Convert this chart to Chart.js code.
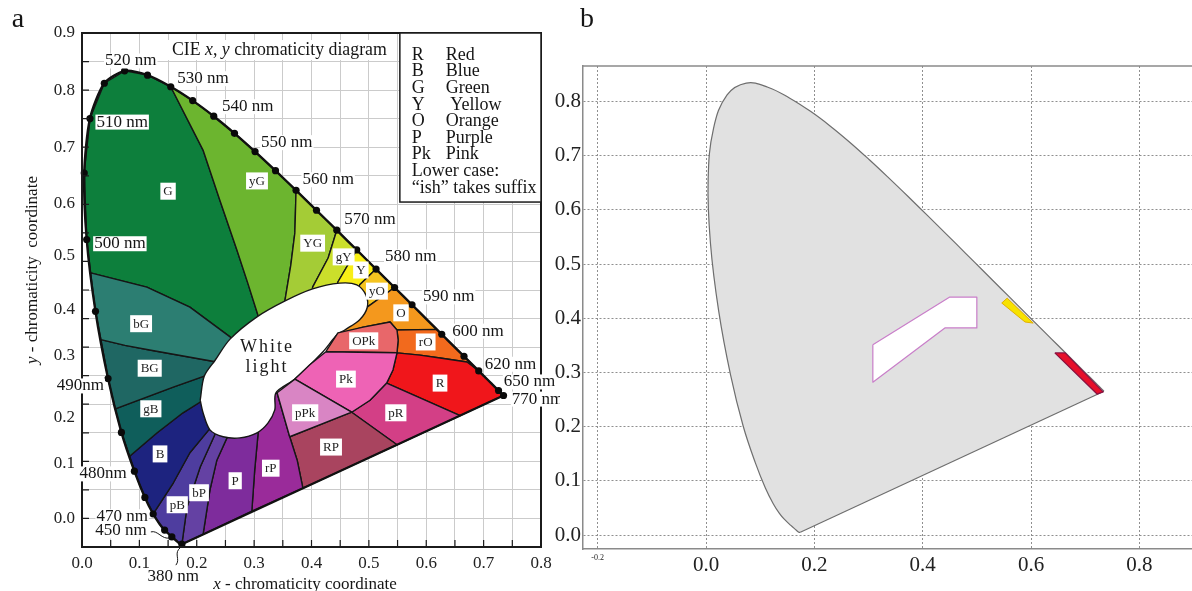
<!DOCTYPE html>
<html><head><meta charset="utf-8">
<script src="https://cdn.jsdelivr.net/npm/chart.js@4/dist/chart.umd.min.js"></script>
<style>
html,body{margin:0;padding:0;background:#fff;width:1192px;height:591px;overflow:hidden;position:relative}
#ca{position:absolute;left:0;top:0}
#cb{position:absolute;left:530px;top:0}
</style></head><body>
<canvas id="cb" width="680" height="591"></canvas>
<canvas id="ca" width="560" height="591"></canvas>
<script>
// ---------- spectral locus (CIE 1931) ----------
const wavelengths = [380,420,440,450,460,465,470,475,480,485,490,495,500,505,510,515,520,525,530,535,540,545,550,555,560,565,570,575,580,585,590,595,600,605,610,620,630,640,650,700];
const locusX = [0.1741,0.1714,0.1644,0.1566,0.1440,0.1355,0.1241,0.1096,0.0913,0.0687,0.0454,0.0235,0.0082,0.0039,0.0139,0.0389,0.0743,0.1142,0.1547,0.1929,0.2296,0.2658,0.3016,0.3373,0.3731,0.4087,0.4441,0.4788,0.5125,0.5448,0.5752,0.6029,0.6270,0.6482,0.6658,0.6915,0.7079,0.7190,0.7260,0.7347];
const locusY = [0.0050,0.0051,0.0109,0.0177,0.0297,0.0399,0.0578,0.0868,0.1327,0.2007,0.2950,0.4127,0.5384,0.6548,0.7502,0.8120,0.8338,0.8262,0.8059,0.7816,0.7543,0.7243,0.6923,0.6589,0.6245,0.5896,0.5547,0.5202,0.4866,0.4544,0.4242,0.3965,0.3725,0.3514,0.3340,0.3083,0.2920,0.2809,0.2740,0.2653];
const dotNm = [380,450,460,470,475,480,485,490,495,500,505,510,515,520,525,530,535,540,545,550,555,560,565,570,575,580,585,590,600,610,620,650,700];

// ---------- panel a regions ('a-b' = locus segment) ----------
const regionG   = ['500-530',[0.211,0.695],[0.240,0.608],[0.270,0.520],[0.289,0.462],[0.307,0.405],[0.314,0.371],[0.275,0.350],[0.258,0.368],[0.188,0.420],[0.113,0.455],[0.015,0.480]];
const regionyG  = ['530-560',[0.371,0.550],[0.364,0.494],[0.354,0.433],[0.350,0.400],[0.314,0.371],[0.307,0.405],[0.289,0.462],[0.270,0.520],[0.240,0.608],[0.211,0.695]];
const regionYG  = ['560-570',[0.429,0.506],[0.402,0.455],[0.400,0.420],[0.350,0.400],[0.354,0.433],[0.364,0.494],[0.371,0.550]];
const regiongY  = ['570-575',[0.446,0.464],[0.440,0.430],[0.400,0.420],[0.402,0.455],[0.429,0.506]];
const regionY   = ['575-580',[0.484,0.459],[0.470,0.420],[0.440,0.430],[0.446,0.464]];
const regionyO  = ['580-585',[0.497,0.420],[0.470,0.420],[0.484,0.459]];
const regionO   = ['585-595',[0.618,0.381],[0.549,0.380],[0.537,0.394],[0.490,0.385],[0.444,0.371],[0.470,0.400],[0.470,0.420],[0.497,0.420]];
const regionrO  = [[0.618,0.381],'600-620',[0.671,0.324],[0.624,0.331],[0.589,0.336],[0.549,0.340],[0.551,0.362],[0.549,0.380]];
const regionR   = ['620-700',[0.659,0.230],[0.531,0.287],[0.542,0.310],[0.549,0.340],[0.589,0.336],[0.624,0.331],[0.671,0.324]];
const regionpR  = [[0.531,0.287],[0.659,0.230],[0.549,0.179],[0.470,0.236],[0.502,0.257]];
const regionRP  = [[0.362,0.193],[0.470,0.236],[0.549,0.179],[0.385,0.103],[0.375,0.152]];
const regionrP  = [[0.385,0.103],[0.375,0.152],[0.362,0.193],[0.340,0.270],[0.300,0.250],[0.307,0.200],[0.301,0.135],[0.296,0.063]];
const regionP   = [[0.307,0.200],[0.301,0.135],[0.296,0.063],[0.211,0.022],[0.223,0.100],[0.235,0.152],[0.253,0.192],[0.270,0.220]];
const regionbP  = [[0.253,0.192],[0.235,0.152],[0.223,0.100],[0.211,0.022],[0.1741,0.005],[0.183,0.070],[0.206,0.140],[0.232,0.198],[0.250,0.220]];
const regionpB  = ['380-470',[0.159,0.112],[0.188,0.165],[0.221,0.205],[0.250,0.220],[0.232,0.198],[0.206,0.140],[0.183,0.070]];
const regionB   = ['470-480',[0.083,0.159],[0.131,0.200],[0.176,0.235],[0.211,0.257],[0.250,0.260],[0.250,0.220],[0.221,0.205],[0.188,0.165],[0.159,0.112]];
const regiongB  = [[0.083,0.159],'485',[0.058,0.242],[0.159,0.280],[0.218,0.301],[0.250,0.280],[0.250,0.260],[0.211,0.257],[0.176,0.235],[0.131,0.200]];
const regionBG  = [[0.058,0.242],'490',[0.033,0.363],[0.075,0.353],[0.118,0.345],[0.235,0.324],[0.260,0.300],[0.250,0.280],[0.218,0.301],[0.159,0.280]];
const regionbG  = [[0.033,0.363],'495',[0.015,0.480],[0.113,0.455],[0.188,0.420],[0.258,0.368],[0.275,0.350],[0.260,0.300],[0.235,0.324],[0.118,0.345],[0.075,0.353]];
const regionWhite = [[0.206,0.257],[0.213,0.299],[0.232,0.327],[0.258,0.364],[0.305,0.403],[0.354,0.431],[0.402,0.452],[0.449,0.462],[0.479,0.459],[0.495,0.441],[0.497,0.419],[0.484,0.398],[0.458,0.380],[0.444,0.371],[0.420,0.342],[0.371,0.294],[0.338,0.270],[0.336,0.240],[0.324,0.217],[0.305,0.200],[0.275,0.191],[0.246,0.193],[0.223,0.205],[0.211,0.235]];
const regionOPk = [[0.425,0.342],[0.446,0.375],[0.490,0.385],[0.537,0.394],[0.549,0.380],[0.551,0.362],[0.549,0.340],[0.484,0.341]];
const regionPk  = [[0.425,0.342],[0.484,0.341],[0.549,0.340],[0.542,0.310],[0.531,0.287],[0.502,0.257],[0.470,0.236],[0.371,0.294],[0.397,0.319]];
const regionpPk = [[0.371,0.294],[0.470,0.236],[0.362,0.193],[0.340,0.270]];

const regionLabelText = ['G','yG','YG','gY','Y','yO','O','OPk','rO','R','Pk','pR','pPk','RP','rP','P','bP','pB','B','gB','BG','bG'];
const regionLabelX = [0.150,0.305,0.402,0.456,0.486,0.514,0.556,0.491,0.599,0.624,0.460,0.547,0.389,0.434,0.329,0.267,0.204,0.166,0.136,0.120,0.118,0.103];
const regionLabelY = [0.623,0.641,0.532,0.508,0.485,0.448,0.410,0.361,0.359,0.287,0.294,0.235,0.235,0.175,0.138,0.116,0.095,0.074,0.163,0.242,0.313,0.391];

const wlText = ['520 nm','530 nm','540 nm','550 nm','560 nm','570 nm','580 nm','590 nm','600 nm','620 nm','650 nm','770 nm','510 nm','500 nm','490nm','480nm','470 nm','450 nm','380 nm'];
const wlX = [0.085,0.211,0.289,0.357,0.429,0.502,0.573,0.639,0.690,0.747,0.780,0.794,0.070,0.066,-0.003,0.037,0.070,0.068,0.159];
const wlY = [0.851,0.820,0.771,0.708,0.643,0.573,0.508,0.438,0.378,0.320,0.289,0.259,0.744,0.531,0.282,0.128,0.053,0.028,-0.051];

const legendKeys = ['R','B','G','Y','O','P','Pk'];
const legendNames = ['Red','Blue','Green',' Yellow','Orange','Purple','Pink'];
const legendNotes = ['Lower case:','\u201Cish\u201D takes suffix'];

const xGridA = [0,0.05,0.1,0.15,0.2,0.25,0.3,0.35,0.4,0.45,0.5,0.55,0.6,0.65,0.7,0.75,0.8];
const xTickLabelsA = ['0.0','0.1','0.2','0.3','0.4','0.5','0.6','0.7','0.8'];
const yGridA = [0,0.05,0.1,0.15,0.2,0.25,0.3,0.35,0.4,0.45,0.5,0.55,0.6,0.65,0.7,0.75,0.8,0.85,0.9];
const yTickPosA = [0.049,0.147,0.226,0.336,0.415,0.510,0.602,0.700,0.800,0.900];
const yTickLabelsA = ['0.0','0.1','0.2','0.3','0.4','0.5','0.6','0.7','0.8','0.9'];

// ---------- panel b ----------
const markWhiteB  = [[0.308,0.351],[0.450,0.439],[0.500,0.439],[0.500,0.382],[0.441,0.382],[0.308,0.282]];
const markYellowB = [[0.546,0.428],[0.556,0.437],[0.604,0.391],[0.589,0.393]];
const markRedB    = [[0.644,0.336],[0.663,0.336],[0.733,0.264],[0.722,0.260]];
const xTicksB = [-0.2,0,0.2,0.4,0.6,0.8];
const xTickLabelsB = ['-0.2','0.0','0.2','0.4','0.6','0.8'];
const yTicksB = [0,0.1,0.2,0.3,0.4,0.5,0.6,0.7,0.8];
const yTickLabelsB = ['0.0','0.1','0.2','0.3','0.4','0.5','0.6','0.7','0.8'];

// ---------- styles ----------
const SERIF = '"Liberation Serif","Times New Roman",serif';
const regionColors = {G:'#0d7f3c',yG:'#6cb52f',YG:'#a4cc36',gY:'#cbdf2b',Y:'#f8ee16',yO:'#f5c420',O:'#f4981d',rO:'#f26a1d',R:'#f0161b',
  pR:'#d33f86',RP:'#a9445f',rP:'#9a2b9a',P:'#7e2c9c',bP:'#6441a3',pB:'#4e3d9f',B:'#1d237f',gB:'#0f5e5b',BG:'#1f6763',bG:'#2c7e72',
  White:'#ffffff',OPk:'#e8676a',Pk:'#ee63b5',pPk:'#d985c4'};

function locusIdx(nm){return wavelengths.indexOf(nm);}
function seg(a,b){
  const i=locusIdx(a), j=locusIdx(b), out=[];
  if(i<=j){for(let k=i;k<=j;k++) out.push({x:locusX[k],y:locusY[k]});}
  else {for(let k=i;k>=j;k--) out.push({x:locusX[k],y:locusY[k]});}
  return out;
}
function build(path){
  const pts=[];
  path.forEach(p=>{
    if(typeof p==='string'){const s=p.split('-').map(Number); pts.push(...seg(s[0], s.length>1?s[1]:s[0]));}
    else pts.push({x:p[0],y:p[1]});
  });
  pts.push({x:pts[0].x,y:pts[0].y});
  return pts;
}
function polyDs(pts,color,extra){
  return Object.assign({data:pts,showLine:true,fill:'shape',backgroundColor:color,borderColor:'#161616',borderWidth:1.4,
    pointRadius:0,pointHoverRadius:0,tension:0,borderJoinStyle:'round'},extra||{});
}

// ---------- panel a datasets ----------
const outer = [['G',regionG],['yG',regionyG],['YG',regionYG],['gY',regiongY],['Y',regionY],['yO',regionyO],['O',regionO],['rO',regionrO],['R',regionR],
  ['pR',regionpR],['RP',regionRP],['rP',regionrP],['P',regionP],['bP',regionbP],['pB',regionpB],['B',regionB],['gB',regiongB],['BG',regionBG],['bG',regionbG]];
const dsA = [];
outer.forEach(r=>dsA.push(polyDs(build(r[1]),regionColors[r[0]])));
dsA.push(polyDs(build(regionWhite),regionColors.White,{tension:0.3}));
dsA.push(polyDs(build(regionOPk),regionColors.OPk));
dsA.push(polyDs(build(regionPk),regionColors.Pk));
dsA.push(polyDs(build(regionpPk),regionColors.pPk));
const locusOpen = wavelengths.map((w,i)=>({x:locusX[i],y:locusY[i]}));
const purpleLine = [{x:locusX[locusX.length-1],y:locusY[locusY.length-1]},{x:locusX[0],y:locusY[0]}];
dsA.push({data:locusOpen,showLine:true,fill:false,borderColor:'#111',borderWidth:2.4,pointRadius:0,tension:0.25,borderJoinStyle:'round'});
dsA.push({data:purpleLine,showLine:true,fill:false,borderColor:'#111',borderWidth:2.2,pointRadius:0});
dsA.push({data:dotNm.map(n=>({x:locusX[locusIdx(n)],y:locusY[locusIdx(n)]})),showLine:false,pointRadius:3.6,pointBackgroundColor:'#0a0a0a',pointBorderWidth:0,clip:false});
dsA.forEach((d,i)=>{d.order=dsA.length-i;});

function runs(ctx,parts,x,y,align,size){
  let total=0;
  const ws=parts.map(p=>{ctx.font=(p[1]?'italic ':'')+size+'px '+SERIF; const w=ctx.measureText(p[0]).width; total+=w; return w;});
  let cx = align==='center' ? x-total/2 : x;
  ctx.textAlign='left';
  parts.forEach((p,i)=>{ctx.font=(p[1]?'italic ':'')+size+'px '+SERIF; ctx.fillText(p[0],cx,y); cx+=ws[i];});
  return total;
}

const annotA = {
  id:'annotA',
  afterDatasetsDraw(chart){
    const ctx=chart.ctx, a=chart.chartArea, xs=chart.scales.x, ys=chart.scales.y;
    const X=v=>xs.getPixelForValue(v), Y=v=>ys.getPixelForValue(v);
    ctx.save();
    ctx.strokeStyle='#1b1b1b'; ctx.lineWidth=2;
    ctx.strokeRect(a.left,a.top,a.right-a.left,a.bottom-a.top);
    ctx.lineWidth=1.2; ctx.beginPath();
    xGridA.forEach(v=>{ctx.moveTo(X(v),a.bottom); ctx.lineTo(X(v),a.bottom-7);});
    yGridA.forEach(v=>{ctx.moveTo(a.left,Y(v)); ctx.lineTo(a.left+7,Y(v));});
    ctx.stroke();
    // legend box
    const lx=X(0.554), lb=Y(0.604);
    ctx.fillStyle='#fff'; ctx.fillRect(lx,a.top,a.right-lx,lb-a.top);
    ctx.lineWidth=1.5; ctx.strokeRect(lx,a.top,a.right-lx,lb-a.top);
    ctx.fillStyle='#151515'; ctx.font='18px '+SERIF; ctx.textBaseline='middle'; ctx.textAlign='left';
    legendKeys.forEach((k,i)=>{const yy=a.top+22+i*16.6; ctx.fillText(k,lx+12,yy); ctx.fillText(legendNames[i],lx+46,yy);});
    legendNotes.forEach((t,i)=>{ctx.fillText(t,lx+12,a.top+22+(7+i)*16.6);});
    // title
    ctx.fillStyle='#fff'; ctx.fillRect(168,40,224,20);
    ctx.fillStyle='#151515';
    runs(ctx,[['CIE ',0],['x',1],[', ',0],['y',1],[' chromaticity diagram',0]],172,50,'left',17.8);
    // region labels
    ctx.font='13px '+SERIF; ctx.textAlign='center'; ctx.textBaseline='middle';
    regionLabelText.forEach((t,i)=>{
      const x=X(regionLabelX[i]), y=Y(regionLabelY[i]); const w=ctx.measureText(t).width+6;
      ctx.fillStyle='#fff'; ctx.fillRect(x-w/2,y-8.5,w,17);
      ctx.fillStyle='#222'; ctx.fillText(t,x,y+0.5);
    });
    // white light
    ctx.fillStyle='#1a1a1a'; ctx.font='18px '+SERIF; ctx.letterSpacing='2px';
    ctx.fillText('White',X(0.3206)+1,Y(0.350)); ctx.fillText('light',X(0.3206)+1,Y(0.315));
    ctx.letterSpacing='0px';
    // wavelength labels
    ctx.font='17px '+SERIF;
    wlText.forEach((t,i)=>{
      const x=X(wlX[i]), y=Y(wlY[i]); const w=ctx.measureText(t).width+2;
      ctx.fillStyle='#fff'; ctx.fillRect(x-w/2,y-7.5,w,15);
      ctx.fillStyle='#151515'; ctx.fillText(t,x,y);
    });
    // leaders
    ctx.strokeStyle='#151515'; ctx.lineWidth=1;
    const i450=locusIdx(450), p450=[X(locusX[i450]),Y(locusY[i450])];
    ctx.beginPath(); ctx.moveTo(p450[0]-21,p450[1]-5); ctx.bezierCurveTo(p450[0]-14,p450[1]-7,p450[0]-10,p450[1]+3,p450[0]-2,p450[1]+1); ctx.stroke();
    const i380=locusIdx(380), p380=[X(locusX[i380]),Y(locusY[i380])];
    ctx.beginPath(); ctx.moveTo(p380[0]-1,p380[1]+3); ctx.bezierCurveTo(p380[0]-9,p380[1]+9,p380[0]-1,p380[1]+15,p380[0]-6,p380[1]+21); ctx.stroke();
    // axis titles
    ctx.fillStyle='#151515'; ctx.textBaseline='middle';
    runs(ctx,[['x',1],[' - chromaticity coordinate',0]],305,585,'center',17);
    ctx.save(); ctx.translate(33,270); ctx.rotate(-Math.PI/2);
    runs(ctx,[['y',1],[' - chromaticity  coordinate',0]],0,0,'center',17);
    ctx.restore();
    ctx.font='28px '+SERIF; ctx.textAlign='center'; ctx.fillText('a',18,20);
    ctx.restore();
  }
};

new Chart(document.getElementById('ca'),{
  type:'scatter',
  data:{datasets:dsA},
  options:{
    responsive:false, animation:false, devicePixelRatio:1, events:[],
    layout:{padding:{left:0,top:33,right:19,bottom:0}},
    plugins:{legend:{display:false},tooltip:{enabled:false}},
    scales:{
      x:{type:'linear',min:0,max:0.8,
        afterBuildTicks:s=>{s.ticks=xGridA.map(v=>({value:v}));},
        afterFit:s=>{s.height=44;},
        grid:{color:'#cbcbcb',lineWidth:1,drawTicks:false},
        border:{display:false},
        ticks:{autoSkip:false,maxRotation:0,padding:6,color:'#222',font:{family:SERIF,size:17},
          callback:(v,i)=> i%2===0 ? xTickLabelsA[i/2] : ''}},
      y:{type:'linear',min:0,max:0.9,
        afterBuildTicks:s=>{s.ticks=yGridA.map(v=>({value:v}));},
        afterFit:s=>{s.width=0;},
        grid:{color:'#cbcbcb',lineWidth:1,drawTicks:false},
        border:{display:false},
        ticks:{display:false}},
      yl:{type:'linear',position:'left',min:0,max:0.9,
        afterBuildTicks:s=>{s.ticks=yTickPosA.map(v=>({value:v}));},
        afterFit:s=>{s.width=82;},
        grid:{display:false,drawTicks:false},
        border:{display:false},
        ticks:{autoSkip:false,padding:7,color:'#222',font:{family:SERIF,size:17},
          callback:(v,i)=>yTickLabelsA[i]}}
    }
  },
  plugins:[annotA]
});

// ---------- panel b ----------
const dsB = [
  polyDs(locusOpen,'#e1e1e1',{borderColor:'#6e6e6e',borderWidth:1.2,tension:0.4}),
  {data:purpleLine,showLine:true,fill:false,borderColor:'#6e6e6e',borderWidth:1.2,pointRadius:0},
  polyDs(build(markWhiteB),'#ffffff',{borderColor:'#c97ec9',borderWidth:1.2}),
  polyDs(build(markYellowB),'#f7e200',{borderColor:'#e3b000',borderWidth:1}),
  polyDs(build(markRedB),'#e60f2a',{borderColor:'#8b1040',borderWidth:1.3})
];
dsB.forEach((d,i)=>{d.order=dsB.length-i;});

const annotB = {
  id:'annotB',
  afterDraw(chart){
    const ctx=chart.ctx, a=chart.chartArea;
    ctx.save();
    ctx.strokeStyle='#8a8a8a'; ctx.lineWidth=1.5;
    ctx.beginPath(); ctx.moveTo(a.left,a.top); ctx.lineTo(a.right,a.top); ctx.stroke();
    ctx.fillStyle='#151515'; ctx.font='28px '+SERIF; ctx.textAlign='center'; ctx.textBaseline='middle';
    ctx.fillText('b',57,20);
    ctx.restore();
  }
};

new Chart(document.getElementById('cb'),{
  type:'scatter',
  data:{datasets:dsB},
  options:{
    responsive:false, animation:false, devicePixelRatio:1, events:[],
    layout:{padding:{left:0,top:66,right:10,bottom:0}},
    plugins:{legend:{display:false},tooltip:{enabled:false}},
    scales:{
      x:{type:'linear',min:-0.2271,max:0.912,
        afterBuildTicks:s=>{s.ticks=xTicksB.map(v=>({value:v}));},
        afterFit:s=>{s.height=42;},
        grid:{color:'#8f8f8f',lineWidth:1,drawTicks:false,borderDash:[2,2]},
        border:{display:true,color:'#8a8a8a',width:1.5,dash:[2,2]},
        ticks:{autoSkip:false,maxRotation:0,padding:4,color:'#222',
          font:c=>({family:SERIF,size:(c.tick && c.tick.value<-0.1)?8:21}),
          callback:(v,i)=>xTickLabelsB[i]}},
      y:{type:'linear',min:-0.0258,max:0.8653,
        afterBuildTicks:s=>{s.ticks=yTicksB.map(v=>({value:v}));},
        afterFit:s=>{s.width=53;},
        grid:{color:'#8f8f8f',lineWidth:1,drawTicks:false,borderDash:[2,2]},
        border:{display:true,color:'#8a8a8a',width:1.5,dash:[2,2]},
        ticks:{autoSkip:false,padding:2,color:'#222',font:{family:SERIF,size:21},
          callback:(v,i)=>yTickLabelsB[i]}}
    }
  },
  plugins:[annotB]
});
</script>
</body></html>
